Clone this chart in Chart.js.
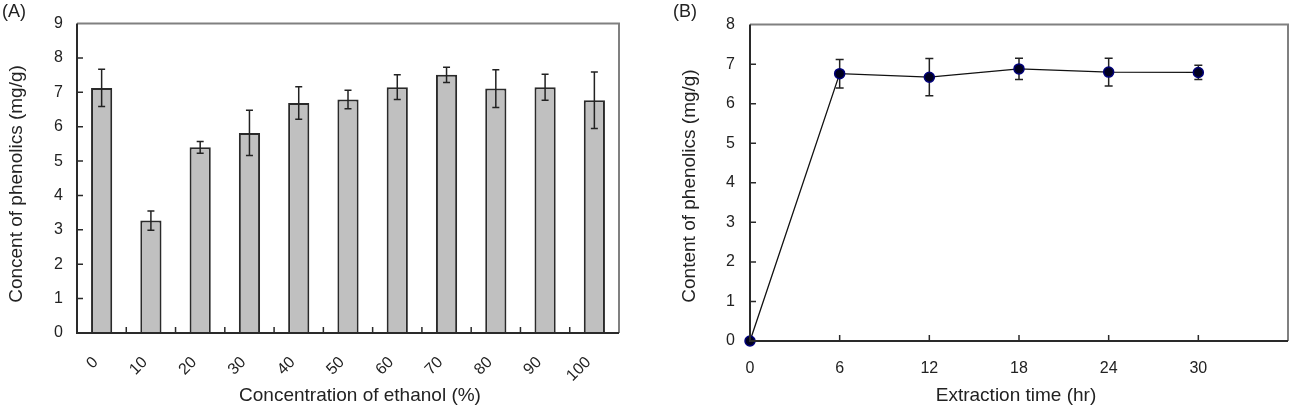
<!DOCTYPE html>
<html>
<head>
<meta charset="utf-8">
<script src="https://cdn.jsdelivr.net/npm/chart.js@4.4.1/dist/chart.umd.min.js"></script>
<style>
  html, body { margin: 0; padding: 0; background: #fff; }
  #wrap { position: relative; width: 1314px; height: 410px; }
  canvas { position: absolute; top: 0; }
  #chartA { left: 0; }
  #chartB { left: 660px; }
</style>
</head>
<body>
<div id="wrap">
  <canvas id="chartA" width="660" height="410"></canvas>
  <canvas id="chartB" width="654" height="410"></canvas>
</div>
<script>
// (A) ethanol concentration
const ethanolLabels = ['0', '10', '20', '30', '40', '50', '60', '70', '80', '90', '100'];
const ethanolContent = [7.13, 3.27, 5.40, 5.82, 6.69, 6.79, 7.15, 7.51, 7.11, 7.15, 6.77];
const ethanolError = [0.54, 0.28, 0.17, 0.66, 0.47, 0.27, 0.36, 0.22, 0.55, 0.38, 0.82];

// (B) extraction time
const timeHours = [0, 6, 12, 18, 24, 30];
const timeContent = [0, 6.76, 6.67, 6.88, 6.80, 6.79];
const timeError = [0, 0.36, 0.47, 0.27, 0.35, 0.18];

const FONT = "'Liberation Sans', Arial, sans-serif";
const TEXT = '#222';
Chart.defaults.font.family = FONT;
Chart.defaults.color = TEXT;

function drawErrorBars(chart, xs, vals, errs, cap) {
  const {ctx, scales: {x, y}} = chart;
  ctx.save();
  ctx.strokeStyle = '#222';
  ctx.lineWidth = 1.5;
  vals.forEach((v, i) => {
    if (!errs[i]) return;
    const px = x.getPixelForValue(xs[i]);
    const top = y.getPixelForValue(v + errs[i]);
    const bot = y.getPixelForValue(v - errs[i]);
    ctx.beginPath();
    ctx.moveTo(px, top); ctx.lineTo(px, bot);
    ctx.moveTo(px - cap, top); ctx.lineTo(px + cap, top);
    ctx.moveTo(px - cap, bot); ctx.lineTo(px + cap, bot);
    ctx.stroke();
  });
  ctx.restore();
}

// plot frame plus inward tick marks
function drawFrame(chart, xTicks, yTicks) {
  const {ctx, chartArea: a} = chart;
  ctx.save();
  ctx.lineWidth = 2;
  ctx.strokeStyle = '#808080';
  ctx.beginPath();
  ctx.moveTo(a.left, a.top); ctx.lineTo(a.right, a.top); ctx.lineTo(a.right, a.bottom);
  ctx.stroke();
  ctx.strokeStyle = '#2a2a2a';
  ctx.beginPath();
  ctx.moveTo(a.left, a.top); ctx.lineTo(a.left, a.bottom); ctx.lineTo(a.right, a.bottom);
  ctx.stroke();
  ctx.lineWidth = 1.5;
  ctx.beginPath();
  xTicks.forEach(px => { ctx.moveTo(px, a.bottom); ctx.lineTo(px, a.bottom - 6); });
  yTicks.forEach(py => { ctx.moveTo(a.left, py); ctx.lineTo(a.left + 6, py); });
  ctx.stroke();
  ctx.restore();
}

function drawTitles(chart, t) {
  const {ctx} = chart;
  ctx.save();
  ctx.fillStyle = TEXT;
  ctx.font = '19px ' + FONT;
  ctx.textAlign = 'center';
  ctx.textBaseline = 'middle';
  ctx.fillText(t.xText, t.xPos[0], t.xPos[1]);
  ctx.save();
  ctx.translate(t.yPos[0], t.yPos[1]);
  ctx.rotate(-Math.PI / 2);
  ctx.fillText(t.yText, 0, 0);
  ctx.restore();
  ctx.textAlign = 'left';
  ctx.font = '18px ' + FONT;
  ctx.fillText(t.panel, t.panelPos[0], t.panelPos[1]);
  ctx.restore();
}

const panelA = {
  id: 'panelA',
  afterDatasetsDraw(chart) {
    const {x, y} = chart.scales;
    drawErrorBars(chart, ethanolLabels.map((_, i) => i), ethanolContent, ethanolError, 3.5);
    const bounds = [];
    for (let i = 1; i < ethanolLabels.length; i++) {
      bounds.push((x.getPixelForTick(i - 1) + x.getPixelForTick(i)) / 2);
    }
    const yt = y.ticks.map((_, i) => y.getPixelForTick(i)).slice(1, -1);
    drawFrame(chart, bounds, yt);
    drawTitles(chart, {
      xText: 'Concentration of ethanol (%)', xPos: [360, 396],
      yText: 'Concent of phenolics (mg/g)', yPos: [17, 184],
      panel: '(A)', panelPos: [2, 12]
    });
  }
};

const panelB = {
  id: 'panelB',
  beforeDatasetsDraw(chart) {
    drawErrorBars(chart, timeHours, timeContent, timeError, 4);
  },
  afterDatasetsDraw(chart) {
    const {x, y} = chart.scales;
    const xt = x.ticks.map((_, i) => x.getPixelForTick(i)).slice(1, -1);
    const yt = y.ticks.map((_, i) => y.getPixelForTick(i)).slice(1, -1);
    drawFrame(chart, xt, yt);
    drawTitles(chart, {
      xText: 'Extraction time (hr)', xPos: [356, 396],
      yText: 'Content of phenolics (mg/g)', yPos: [30, 186],
      panel: '(B)', panelPos: [13, 12]
    });
  }
};

const noGrid = { display: false, drawTicks: false };

new Chart(document.getElementById('chartA'), {
  type: 'bar',
  data: {
    labels: ethanolLabels,
    datasets: [{
      data: ethanolContent,
      backgroundColor: '#c0c0c0',
      borderColor: '#2a2a2a',
      borderWidth: 2,
      categoryPercentage: 1,
      barPercentage: 0.43
    }]
  },
  options: {
    responsive: false,
    animation: false,
    layout: { padding: { left: 0, top: 15, right: 41, bottom: 0 } },
    plugins: { legend: { display: false }, tooltip: { enabled: false } },
    scales: {
      x: {
        grid: noGrid,
        border: { display: false },
        ticks: { maxRotation: 45, minRotation: 45, padding: 20, labelOffset: -6, font: { size: 16 } },
        afterFit: s => { s.height = 77; }
      },
      y: {
        min: 0, max: 9,
        grid: noGrid,
        border: { display: false },
        ticks: { stepSize: 1, padding: 14, font: { size: 16 } },
        afterFit: s => { s.width = 77; }
      }
    }
  },
  plugins: [panelA]
});

new Chart(document.getElementById('chartB'), {
  type: 'line',
  data: {
    datasets: [{
      data: timeHours.map((h, i) => ({ x: h, y: timeContent[i] })),
      borderColor: '#111',
      borderWidth: 1.3,
      pointRadius: 5,
      pointBackgroundColor: '#000020',
      pointBorderColor: '#00007a',
      pointBorderWidth: 1.5,
      tension: 0,
      clip: false
    }]
  },
  options: {
    responsive: false,
    animation: false,
    layout: { padding: { left: 0, top: 15, right: 26, bottom: 0 } },
    plugins: { legend: { display: false }, tooltip: { enabled: false } },
    scales: {
      x: {
        type: 'linear', min: 0, max: 36,
        grid: noGrid,
        border: { display: false },
        ticks: { stepSize: 6, padding: 18, font: { size: 16 }, callback: v => (v === 36 ? '' : v) },
        afterFit: s => { s.height = 69; }
      },
      y: {
        min: 0, max: 8,
        grid: noGrid,
        border: { display: false },
        ticks: { stepSize: 1, padding: 15, font: { size: 16 } },
        afterFit: s => { s.width = 90; }
      }
    }
  },
  plugins: [panelB]
});
</script>
</body>
</html>
